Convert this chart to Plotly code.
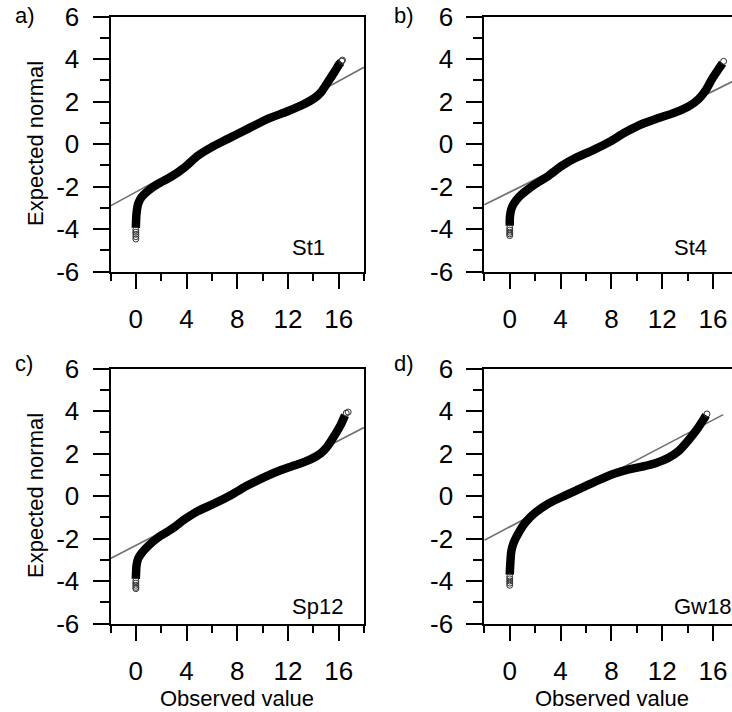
import plotly.graph_objects as go

W, H = 732, 712

panel_names = ["St1", "St4", "Sp12", "Gw18"]
panel_letters = ["a)", "b)", "c)", "d)"]

# Observed value / expected normal pairs read along each Q-Q band
a_obs = [0.0, 0.02, 0.05, 0.18, 0.44, 0.97, 1.75, 2.8, 3.85, 4.9, 5.95, 7.26, 8.83, 10.4, 11.98, 13.3, 14.08, 14.6, 15.13, 15.65, 16.05, 16.2]
a_exp = [-3.95, -3.6, -3.29, -2.82, -2.51, -2.20, -1.88, -1.54, -1.10, -0.55, -0.16, 0.24, 0.71, 1.18, 1.54, 1.88, 2.15, 2.43, 2.90, 3.37, 3.76, 3.86]
a_tail_obs = [0.0, 0.0, 0.0, 0.0, 0.0, 16.25, 16.3]
a_tail_exp = [-4.05, -4.15, -4.25, -4.36, -4.47, 3.90, 3.95]

b_obs = [0.0, 0.02, 0.13, 0.31, 0.7, 1.23, 2.02, 3.07, 4.12, 5.16, 6.48, 7.79, 9.1, 10.41, 11.72, 13.03, 14.08, 14.87, 15.4, 15.92, 16.44, 16.75]
b_exp = [-3.85, -3.4, -3.06, -2.82, -2.51, -2.23, -1.88, -1.49, -1.02, -0.66, -0.31, 0.08, 0.55, 0.94, 1.22, 1.49, 1.77, 2.12, 2.51, 3.06, 3.53, 3.80]
b_tail_obs = [0.0, 0.0, 0.0, 0.0, 0.0, 16.83]
b_tail_exp = [-3.95, -4.05, -4.15, -4.23, -4.31, 3.89]

c_obs = [0.0, 0.02, 0.05, 0.18, 0.44, 0.97, 1.75, 2.8, 3.85, 4.9, 6.21, 7.52, 8.83, 10.15, 11.46, 12.77, 13.82, 14.6, 15.13, 15.65, 16.18, 16.5]
c_exp = [-3.9, -3.55, -3.29, -2.95, -2.70, -2.35, -1.96, -1.57, -1.10, -0.71, -0.35, 0.05, 0.50, 0.89, 1.22, 1.49, 1.73, 2.01, 2.35, 2.82, 3.37, 3.80]
c_tail_obs = [0.0, 0.0, 0.0, 0.0, 0.0, 16.6, 16.75]
c_tail_exp = [-4.0, -4.1, -4.2, -4.3, -4.36, 3.90, 3.95]

d_obs = [0.0, 0.05, 0.13, 0.31, 0.7, 1.23, 2.02, 3.07, 4.38, 5.69, 7.0, 8.31, 9.36, 10.41, 11.46, 12.5, 13.29, 14.08, 14.74, 15.26, 15.45]
d_exp = [-3.7, -3.14, -2.59, -2.2, -1.73, -1.25, -0.78, -0.35, 0.03, 0.39, 0.75, 1.07, 1.25, 1.38, 1.54, 1.80, 2.12, 2.64, 3.14, 3.61, 3.80]
d_tail_obs = [0.0, 0.0, 0.0, 0.0, 0.0, 15.52]
d_tail_exp = [-3.8, -3.9, -4.0, -4.1, -4.2, 3.86]

# Reference (normal) lines: end points
a_ref_obs, a_ref_exp = [-2, 18], [-2.91, 3.61]
b_ref_obs, b_ref_exp = [-2, 18], [-2.86, 3.08]
c_ref_obs, c_ref_exp = [-2, 18], [-2.94, 3.22]
d_ref_obs, d_ref_exp = [-2, 16.8], [-2.08, 3.83]

x_ticks = [0, 4, 8, 12, 16]
y_ticks = [-6, -4, -2, 0, 2, 4, 6]

panels = [
    (a_obs, a_exp, a_tail_obs, a_tail_exp, a_ref_obs, a_ref_exp),
    (b_obs, b_exp, b_tail_obs, b_tail_exp, b_ref_obs, b_ref_exp),
    (c_obs, c_exp, c_tail_obs, c_tail_exp, c_ref_obs, c_ref_exp),
    (d_obs, d_exp, d_tail_obs, d_tail_exp, d_ref_obs, d_ref_exp),
]

# layout in pixels
px_left = [110.5, 484.3, 110.5, 484.3]
px_right = [364.0, 732.0, 364.0, 732.0]
px_top = [16.5, 16.5, 368.5, 368.5]
px_bot = [271.5, 271.5, 623.5, 623.5]
x_ranges = [[-2, 18], [-2, 17.49], [-2, 18], [-2, 17.49]]

FONT = "Liberation Sans, Arial, sans-serif"
fig = go.Figure()
for i, (ox, ey, tx, ty, rx, ry) in enumerate(panels):
    xa = "x" if i == 0 else f"x{i+1}"
    ya = "y" if i == 0 else f"y{i+1}"
    fig.add_trace(go.Scatter(x=rx, y=ry, mode="lines", xaxis=xa, yaxis=ya,
                             line=dict(color="#707070", width=1.6), showlegend=False, hoverinfo="skip"))
    fig.add_trace(go.Scatter(x=ox, y=ey, mode="lines", xaxis=xa, yaxis=ya,
                             line=dict(color="black", width=8.5, shape="spline", smoothing=0.8),
                             showlegend=False))
    fig.add_trace(go.Scatter(x=tx, y=ty, mode="markers", xaxis=xa, yaxis=ya,
                             marker=dict(symbol="circle-open", size=6, color="#333333", line=dict(width=1)),
                             showlegend=False))

layout = dict(width=W, height=H, margin=dict(l=0, r=0, t=0, b=0, autoexpand=False),
              paper_bgcolor="white", plot_bgcolor="white", showlegend=False)

for i in range(4):
    xk = "xaxis" if i == 0 else f"xaxis{i+1}"
    yk = "yaxis" if i == 0 else f"yaxis{i+1}"
    xa = "x" if i == 0 else f"x{i+1}"
    ya = "y" if i == 0 else f"y{i+1}"
    layout[xk] = dict(domain=[px_left[i] / W, px_right[i] / W], range=x_ranges[i], anchor=ya,
                      automargin=False,
                      showline=True, linecolor="black", linewidth=2, mirror=True,
                      showgrid=False, zeroline=False,
                      tickmode="array", tickvals=x_ticks, ticktext=[str(v) for v in x_ticks],
                      ticks="outside", ticklen=15, tickwidth=2, tickcolor="black",
                      minor=dict(tickmode="array", tickvals=[-2, 2, 6, 10, 14, 18], ticks="outside",
                                 ticklen=7, tickwidth=2, tickcolor="black", showgrid=False),
                      tickfont=dict(family=FONT, size=26, color="black"), ticklabelstandoff=8)
    layout[yk] = dict(domain=[1 - px_bot[i] / H, 1 - px_top[i] / H], range=[-6, 6], anchor=xa,
                      automargin=False,
                      showline=True, linecolor="black", linewidth=2, mirror=(i in (0, 2)),
                      showgrid=False, zeroline=False,
                      tickmode="array", tickvals=y_ticks, ticktext=[str(v) for v in y_ticks],
                      ticks="outside", ticklen=16, tickwidth=2, tickcolor="black",
                      minor=dict(tickmode="array", tickvals=[-5, -3, -1, 1, 3, 5], ticks="outside",
                                 ticklen=9, tickwidth=2, tickcolor="black", showgrid=False),
                      tickfont=dict(family=FONT, size=26, color="black"), ticklabelstandoff=8)

ann = []
letter_pos = [(13, 15), (392, 15), (13, 363), (392, 363)]
for (lx, ly), t in zip(letter_pos, panel_letters):
    ann.append(dict(text=t, x=lx / W, y=1 - ly / H, xref="paper", yref="paper",
                    xanchor="left", yanchor="middle", showarrow=False,
                    font=dict(family=FONT, size=22, color="black")))
name_pos = [(290, 247), (672, 247), (290, 606), (672, 606)]
for (nx, ny), t in zip(name_pos, panel_names):
    ann.append(dict(text=t, x=nx / W, y=1 - ny / H, xref="paper", yref="paper",
                    xanchor="left", yanchor="middle", showarrow=False,
                    font=dict(family=FONT, size=22, color="black")))
for cy in (144, 496):
    ann.append(dict(text="Expected normal", x=35 / W, y=1 - cy / H, xref="paper", yref="paper",
                    xanchor="center", yanchor="middle", textangle=-90, showarrow=False,
                    font=dict(family=FONT, size=22, color="black")))
for cx in (237, 612):
    ann.append(dict(text="Observed value", x=cx / W, y=1 - 698 / H, xref="paper", yref="paper",
                    xanchor="center", yanchor="middle", showarrow=False,
                    font=dict(family=FONT, size=22, color="black")))
layout["annotations"] = ann
fig.update_layout(**layout)
fig.write_html("out.html")
